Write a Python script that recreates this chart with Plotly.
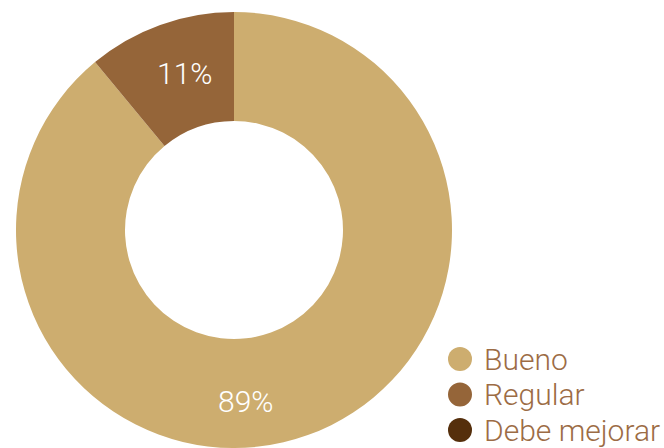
import plotly.graph_objects as go

# Survey results
categories = ["Bueno", "Regular", "Debe mejorar"]
values = [89, 11, 0]
colors = ["#CDAD6F", "#956539", "#552F0C"]

W, H = 664, 448
FONT = "Roboto"
LABEL_COLOR = "#9C6C45"

fig = go.Figure()
fig.add_trace(go.Pie(
    labels=categories,
    values=values,
    marker=dict(colors=colors, line=dict(width=0)),
    hole=0.5,
    sort=False,
    direction="clockwise",
    rotation=0,
    textinfo="none",
    hoverinfo="label+percent",
    showlegend=False,
    domain=dict(x=[16 / W, 452 / W], y=[0, 436 / H]),
))

# Percentage labels placed inside the ring
label_pos = {"Bueno": (245, 401), "Regular": (184, 74)}
annotations = []
for cat, val in zip(categories, values):
    if cat in label_pos and val > 0:
        px, py = label_pos[cat]
        annotations.append(dict(
            x=px / W, y=1 - py / H, xref="paper", yref="paper",
            text=f"{val}%", showarrow=False,
            font=dict(family=FONT, size=30, color="white", weight=300),
            xanchor="center", yanchor="middle",
        ))

# Legend: filled circles with category names
shapes = []
x0, y0, step, r = 460, 359, 35.5, 12
for i, (cat, col) in enumerate(zip(categories, colors)):
    cy = y0 + i * step
    shapes.append(dict(
        type="circle", xref="paper", yref="paper",
        x0=(x0 - r) / W, x1=(x0 + r) / W,
        y0=1 - (cy + r) / H, y1=1 - (cy - r) / H,
        fillcolor=col, line=dict(width=0),
    ))
    annotations.append(dict(
        x=(x0 + 22) / W, y=1 - cy / H, xref="paper", yref="paper",
        text=cat, showarrow=False,
        font=dict(family=FONT, size=30, color=LABEL_COLOR, weight=300),
        xanchor="left", yanchor="middle",
    ))

fig.update_layout(
    width=W, height=H,
    margin=dict(l=0, r=0, t=0, b=0),
    paper_bgcolor="white", plot_bgcolor="white",
    shapes=shapes, annotations=annotations,
)

fig.write_html("out.html")
